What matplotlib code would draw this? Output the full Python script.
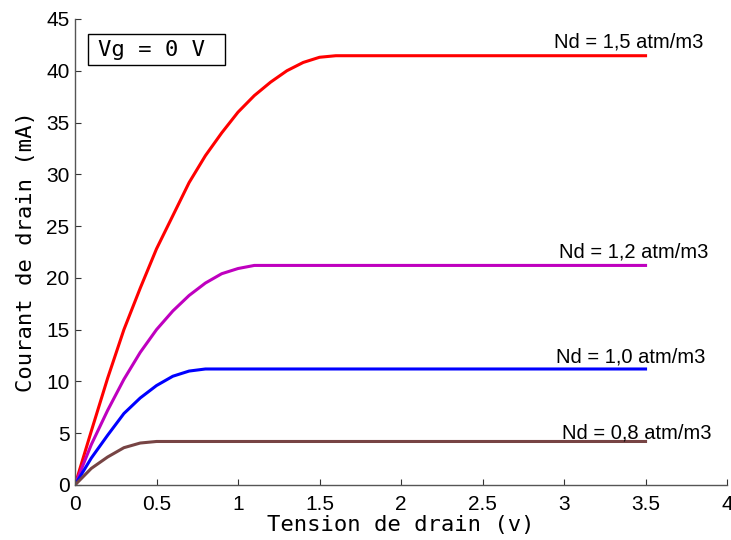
import matplotlib
matplotlib.use('Agg')
import matplotlib.pyplot as plt
from matplotlib.patches import Rectangle

# drain voltage (V) and drain current (mA) for each doping level
V_RED = [0, 0.1, 0.2, 0.3, 0.4, 0.5, 0.6, 0.7, 0.8, 0.9, 1.0, 1.1, 1.2, 1.3, 1.4, 1.5, 1.6, 3.5]
I_RED = [0, 5.2, 10.3, 15.0, 19.0, 22.8, 26.0, 29.2, 31.8, 34.0, 36.0, 37.6, 38.9, 40.0, 40.8, 41.3, 41.45, 41.45]

V_MAG = [0, 0.1, 0.2, 0.3, 0.4, 0.5, 0.6, 0.7, 0.8, 0.9, 1.0, 1.1, 3.5]
I_MAG = [0, 3.9, 7.2, 10.2, 12.8, 15.0, 16.8, 18.3, 19.5, 20.4, 20.9, 21.2, 21.2]

V_BLUE = [0, 0.1, 0.2, 0.3, 0.4, 0.5, 0.6, 0.7, 0.8, 3.5]
I_BLUE = [0, 2.6, 4.8, 6.9, 8.4, 9.6, 10.5, 11.0, 11.2, 11.2]

V_BROWN = [0, 0.1, 0.2, 0.3, 0.4, 0.5, 3.5]
I_BROWN = [0, 1.6, 2.7, 3.6, 4.05, 4.2, 4.2]

LABELS = ['Nd = 1,5 atm/m3', 'Nd = 1,2 atm/m3', 'Nd = 1,0 atm/m3', 'Nd = 0,8 atm/m3']
LABEL_POS = [(2.94, 42.8), (2.97, 22.5), (2.95, 12.4), (2.99, 5.0)]

curves = [(V_RED, I_RED, '#ff0000'),
          (V_MAG, I_MAG, '#bf00bf'),
          (V_BLUE, I_BLUE, '#0000ff'),
          (V_BROWN, I_BROWN, '#774444')]

fig = plt.figure(figsize=(7.31, 5.4), dpi=100)
ax = fig.add_axes([0.1026, 0.1019, 0.892, 0.863])

for (v, i, c), lab, (tx, ty) in zip(curves, LABELS, LABEL_POS):
    ax.plot(v, i, color=c, lw=2.2, solid_joinstyle='round')
    ax.text(tx, ty, lab, fontsize=14.5, family='Liberation Sans', va='center', ha='left')

ax.set_xlim(0, 4)
ax.set_ylim(0, 45)
ax.set_xticks([0, 0.5, 1, 1.5, 2, 2.5, 3, 3.5, 4])
ax.set_xticklabels(['0', '0.5', '1', '1.5', '2', '2.5', '3', '3.5', '4'])
ax.set_yticks(range(0, 46, 5))

for s in ['top', 'right']:
    ax.spines[s].set_visible(False)
for s in ['left', 'bottom']:
    ax.spines[s].set_color('#555555')
    ax.spines[s].set_linewidth(1.0)
ax.tick_params(direction='in', length=4, width=0.8, color='#333333',
               labelsize=15, pad=4)
ax.tick_params(axis='x', pad=7)
for lbl in ax.get_xticklabels() + ax.get_yticklabels():
    lbl.set_family('Liberation Sans')

ax.set_xlabel('Tension de drain (v)', family='DejaVu Sans Mono', fontsize=16, labelpad=1)
ax.set_ylabel('Courant de drain (mA)', family='DejaVu Sans Mono', fontsize=16, labelpad=7)

# annotation box for the gate voltage
ax.add_patch(Rectangle((0.08, 40.6), 0.84, 2.9, fill=False, edgecolor='black', lw=1.0))
ax.text(0.47, 42.05, 'Vg = 0 V', family='DejaVu Sans Mono', fontsize=16,
        ha='center', va='center')

fig.savefig('out.png', dpi=100)
